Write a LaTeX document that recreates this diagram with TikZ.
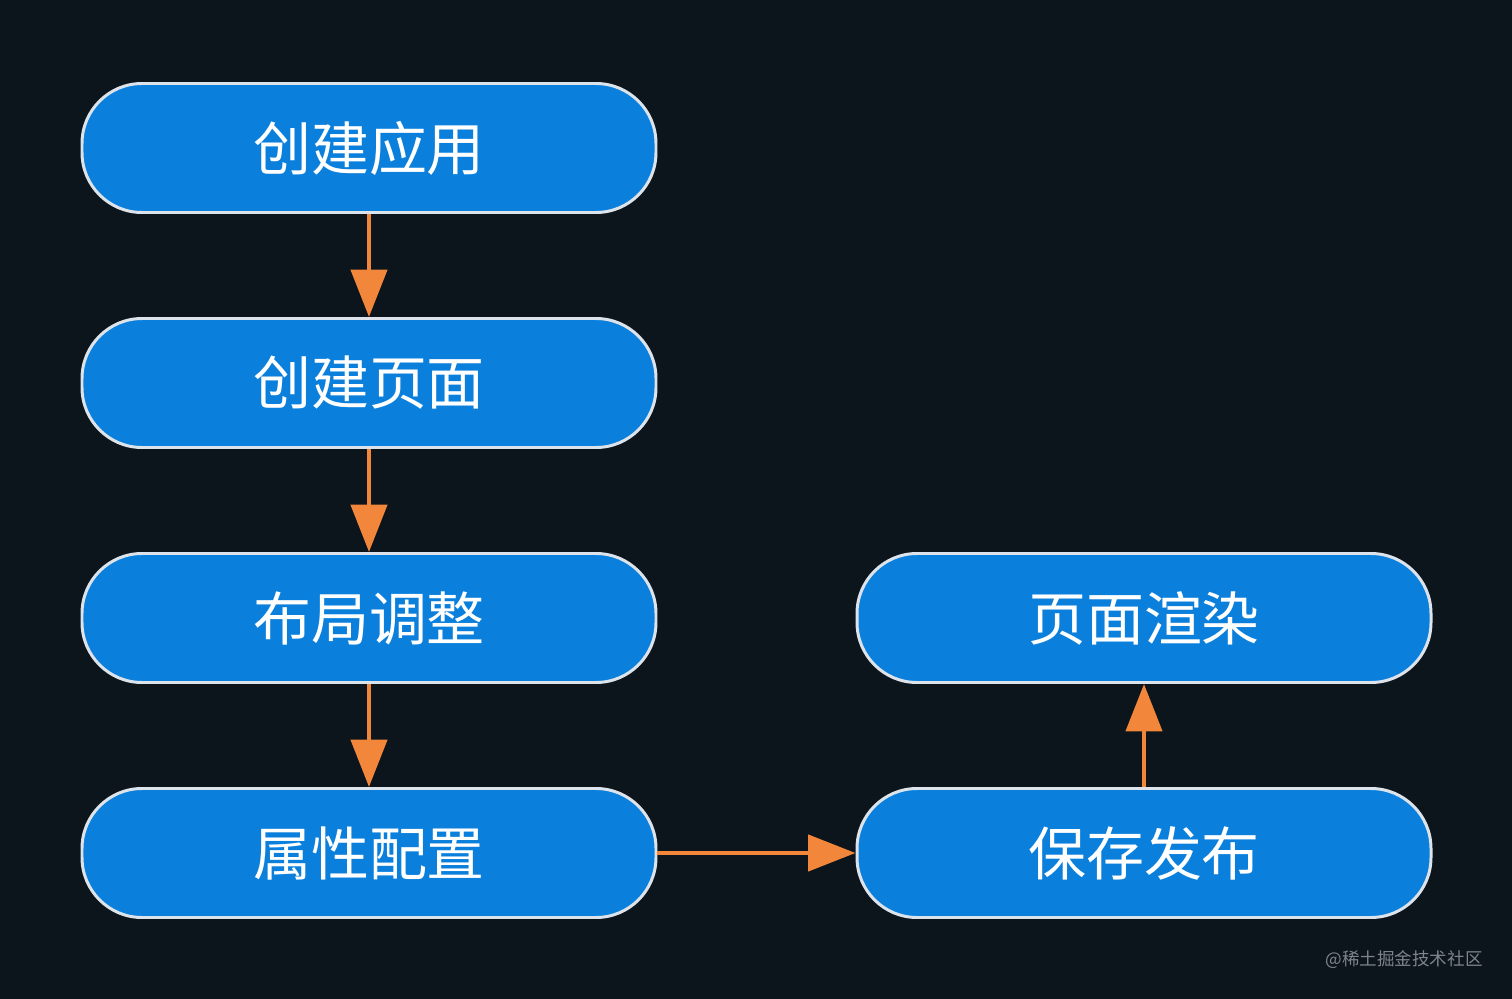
\documentclass[tikz,border=0pt]{standalone}
\usepackage{fontspec}
\newfontfamily\cjk{Noto Sans CJK SC}
\usetikzlibrary{positioning,arrows.meta}
\definecolor{bgdark}{HTML}{0C141C}
\definecolor{boxblue}{HTML}{0A7FDC}
\definecolor{boxline}{HTML}{DDE3EA}
\definecolor{flow}{HTML}{F2863A}
\definecolor{markgray}{HTML}{7D848C}
\tikzset{
  flowchart/.style={on grid,node distance=4.7cm},
  stage/.style={draw=boxline,fill=boxblue,line width=1.7pt,rounded corners=1.2cm,
    minimum width=11.48cm,minimum height=2.58cm,inner sep=0pt,text=white,
    font=\cjk\fontsize{33}{36}\selectfont},
  flowarrow/.style={-{Triangle[length=0.95cm,width=0.72cm]},draw=flow,line width=2.7pt},
}

\begin{document}
\begin{tikzpicture}[flowchart]
  \fill[bgdark] (0,0) rectangle (30.24,-19.98);
  \node[stage] (app) at (7.38,-2.96) {创建应用};
  \node[stage] (page) [below=of app] {创建页面};
  \node[stage] (layout) [below=of page] {布局调整};
  \node[stage] (props) [below=of layout] {属性配置};
  \node[stage] (save) [right=15.5cm of props] {保存发布};
  \node[stage] (render) [above=of save] {页面渲染};
  \draw[flowarrow] (app) -- (page);
  \draw[flowarrow] (page) -- (layout);
  \draw[flowarrow] (layout) -- (props);
  \draw[flowarrow] (props) -- (save);
  \draw[flowarrow] (save) -- (render);
  % watermark
  \node[text=markgray,font=\cjk\fontsize{10}{12}\selectfont] (mark) at (28.08,-19.2) {@稀土掘金技术社区};
\end{tikzpicture}
\end{document}
